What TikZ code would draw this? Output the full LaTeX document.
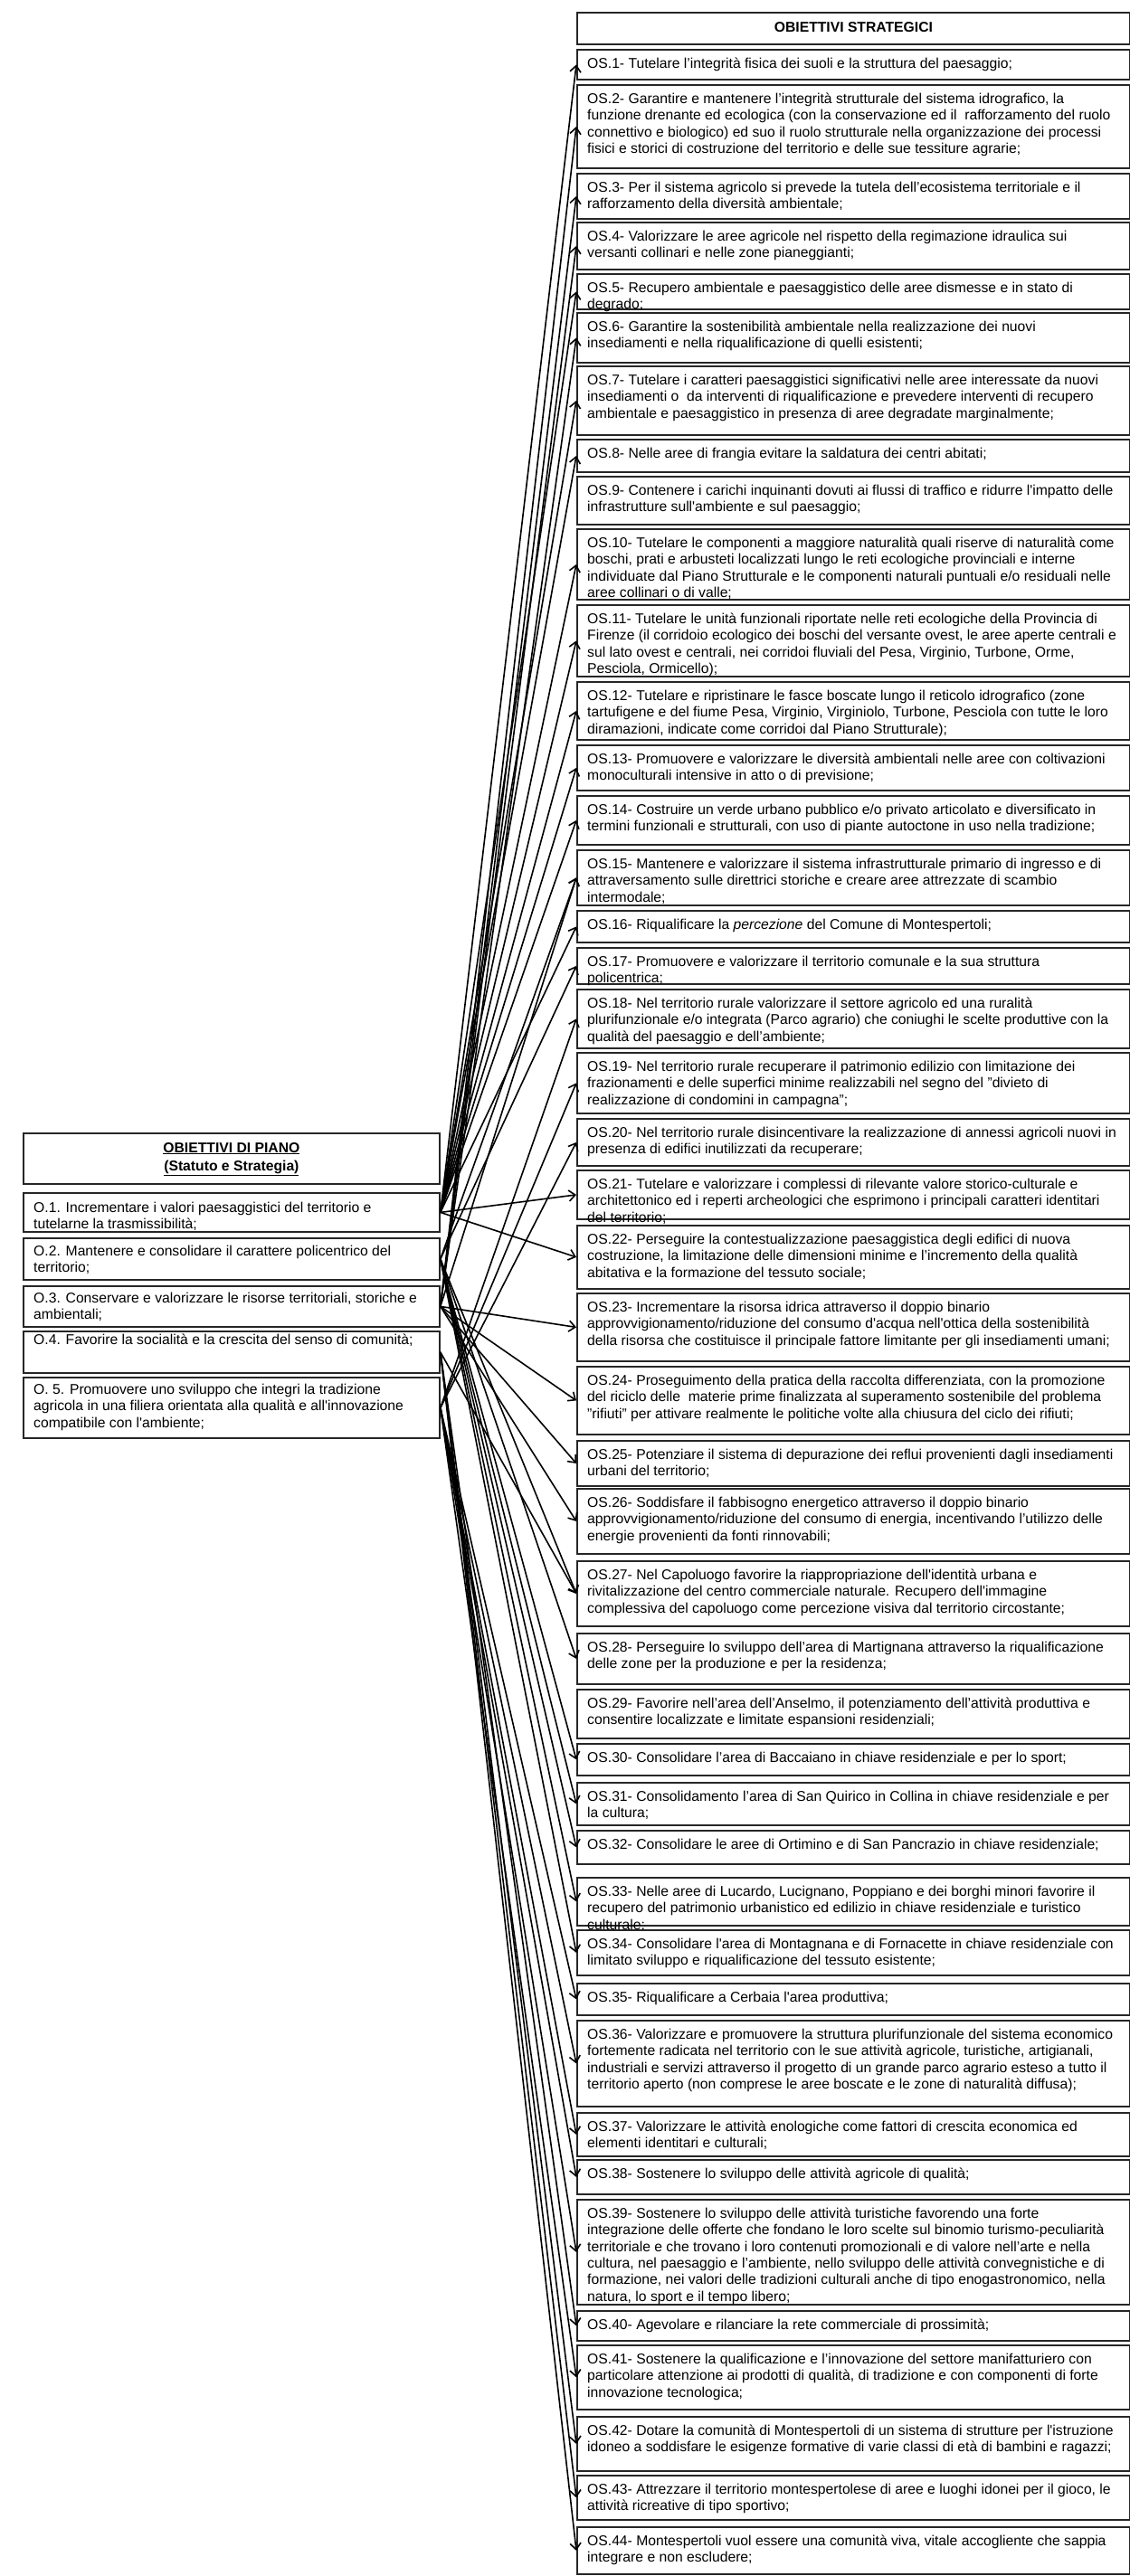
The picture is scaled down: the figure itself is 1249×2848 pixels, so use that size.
\documentclass[tikz,border=0pt]{standalone}
\usepackage{fontspec}
\setmainfont{Liberation Sans}
\usetikzlibrary{arrows.meta}
\tikzset{
  x=1pt,y=1pt,
  frame/.style={draw=black!85, line width=1.8pt, anchor=north west, inner sep=0pt},
  osbox/.style={frame, minimum width=611pt},
  obox/.style={frame, minimum width=460pt},
  txt/.style={anchor=base west, inner sep=0pt, font=\fontsize{15.7}{18.3}\selectfont},
  ttl/.style={anchor=base, inner sep=0pt, font=\fontsize{15.7}{18.3}\selectfont\bfseries},
  conn/.style={draw=black, line width=1.6pt, -{Straight Barb[length=7pt,width=12pt,line width=1.6pt]}}
}
\newcommand{\OSbox}[4]{%
  \node[osbox, minimum height={#3-#2}] (#1) at (637,-#2) {};
  \node[txt] (#1t) at ([xshift=12pt,yshift=-21.5pt]#1.north west) {\parbox[t]{640pt}{\raggedright #4}};
}
\newcommand{\Obox}[5]{%
  \node[obox, minimum height={#3-#2}] (#1) at (25,-#2) {};
  \node[txt] (#1t) at ([xshift=12pt,yshift=-#4pt]#1.north west) {\parbox[t]{460pt}{\raggedright #5}};
}
\begin{document}
\begin{tikzpicture}
\fill[white] (0,0) rectangle (1249,-2848);
\path[use as bounding box] (0,0) rectangle (1249,-2848);

% header
\node[osbox, minimum height=35pt] (hdr) at (637,-13) {};
\node[ttl] (hdrt) at ([yshift=-22pt]hdr.north) {OBIETTIVI STRATEGICI};

\OSbox{os1}{54}{87}{OS.1- Tutelare l’integrità fisica dei suoli e la struttura del paesaggio;}
\OSbox{os2}{93}{185}{OS.2- Garantire e mantenere l’integrità strutturale del sistema idrografico, la\\funzione drenante ed ecologica (con la conservazione ed il\ \ rafforzamento del ruolo\\connettivo e biologico) ed suo il ruolo strutturale nella organizzazione dei processi\\fisici e storici di costruzione del territorio e delle sue tessiture agrarie;}
\OSbox{os3}{191}{241}{OS.3- Per il sistema agricolo si prevede la tutela dell’ecosistema territoriale e il\\rafforzamento della diversità ambientale;}
\OSbox{os4}{245}{297}{OS.4- Valorizzare le aree agricole nel rispetto della regimazione idraulica sui\\versanti collinari e nelle zone pianeggianti;}
\OSbox{os5}{302}{341}{OS.5- Recupero ambientale e paesaggistico delle aree dismesse e in stato di\\degrado;}
\OSbox{os6}{345}{400}{OS.6- Garantire la sostenibilità ambientale nella realizzazione dei nuovi\\insediamenti e nella riqualificazione di quelli esistenti;}
\OSbox{os7}{404}{480}{OS.7- Tutelare i caratteri paesaggistici significativi nelle aree interessate da nuovi\\insediamenti o\ \ da interventi di riqualificazione e prevedere interventi di recupero\\ambientale e paesaggistico in presenza di aree degradate marginalmente;}
\OSbox{os8}{485}{521}{OS.8- Nelle aree di frangia evitare la saldatura dei centri abitati;}
\OSbox{os9}{526}{579}{OS.9- Contenere i carichi inquinanti dovuti ai flussi di traffico e ridurre l\textquotesingle impatto delle\\infrastrutture sull\textquotesingle ambiente e sul paesaggio;}
\OSbox{os10}{584}{662}{OS.10- Tutelare le componenti a maggiore naturalità quali riserve di naturalità come\\boschi, prati e arbusteti localizzati lungo le reti ecologiche provinciali e interne\\individuate dal Piano Strutturale e le componenti naturali puntuali e/o residuali nelle\\aree collinari o di valle;}
\OSbox{os11}{668}{747}{OS.11- Tutelare le unità funzionali riportate nelle reti ecologiche della Provincia di\\Firenze (il corridoio ecologico dei boschi del versante ovest, le aree aperte centrali e\\sul lato ovest e centrali, nei corridoi fluviali del Pesa, Virginio, Turbone, Orme,\\Pesciola, Ormicello);}
\OSbox{os12}{753}{817}{OS.12- Tutelare e ripristinare le fasce boscate lungo il reticolo idrografico (zone\\tartufigene e del fiume Pesa, Virginio, Virginiolo, Turbone, Pesciola con tutte le loro\\diramazioni, indicate come corridoi dal Piano Strutturale);}
\OSbox{os13}{823}{873}{OS.13- Promuovere e valorizzare le diversità ambientali nelle aree con coltivazioni\\monoculturali intensive in atto o di previsione;}
\OSbox{os14}{879}{933}{OS.14- Costruire un verde urbano pubblico e/o privato articolato e diversificato in\\termini funzionali e strutturali, con uso di piante autoctone in uso nella tradizione;}
\OSbox{os15}{939}{1000}{OS.15- Mantenere e valorizzare il sistema infrastrutturale primario di ingresso e di\\attraversamento sulle direttrici storiche e creare aree attrezzate di scambio\\intermodale;}
\OSbox{os16}{1006}{1041}{OS.16- Riqualificare la \textit{percezione} del Comune di Montespertoli;}
\OSbox{os17}{1047}{1087}{OS.17- Promuovere e valorizzare il territorio comunale e la sua struttura\\policentrica;}
\OSbox{os18}{1093}{1158}{OS.18- Nel territorio rurale valorizzare il settore agricolo ed una ruralità\\plurifunzionale e/o integrata (Parco agrario) che coniughi le scelte produttive con la\\qualità del paesaggio e dell’ambiente;}
\OSbox{os19}{1163}{1230}{OS.19- Nel territorio rurale recuperare il patrimonio edilizio con limitazione dei\\frazionamenti e delle superfici minime realizzabili nel segno del "divieto di\\realizzazione di condomini in campagna";}
\OSbox{os20}{1236}{1288}{OS.20- Nel territorio rurale disincentivare la realizzazione di annessi agricoli nuovi in\\presenza di edifici inutilizzati da recuperare;}
\OSbox{os21}{1293}{1347}{OS.21- Tutelare e valorizzare i complessi di rilevante valore storico-culturale e\\architettonico ed i reperti archeologici che esprimono i principali caratteri identitari\\del territorio;}
\OSbox{os22}{1354}{1424}{OS.22- Perseguire la contestualizzazione paesaggistica degli edifici di nuova\\costruzione, la limitazione delle dimensioni minime e l’incremento della qualità\\abitativa e la formazione del tessuto sociale;}
\OSbox{os23}{1429}{1504}{OS.23- Incrementare la risorsa idrica attraverso il doppio binario\\approvvigionamento/riduzione del consumo d\textquotesingle acqua nell\textquotesingle ottica della sostenibilità\\della risorsa che costituisce il principale fattore limitante per gli insediamenti umani;}
\OSbox{os24}{1510}{1585}{OS.24- Proseguimento della pratica della raccolta differenziata, con la promozione\\del riciclo delle\ \ materie prime finalizzata al superamento sostenibile del problema\\"rifiuti" per attivare realmente le politiche volte alla chiusura del ciclo dei rifiuti;}
\OSbox{os25}{1592}{1642}{OS.25- Potenziare il sistema di depurazione dei reflui provenienti dagli insediamenti\\urbani del territorio;}
\OSbox{os26}{1645}{1717}{OS.26- Soddisfare il fabbisogno energetico attraverso il doppio binario\\approvvigionamento/riduzione del consumo di energia, incentivando l’utilizzo delle\\energie provenienti da fonti rinnovabili;}
\OSbox{os27}{1725}{1797}{OS.27- Nel Capoluogo favorire la riappropriazione dell\textquotesingle identità urbana e\\rivitalizzazione del centro commerciale naturale. Recupero dell\textquotesingle immagine\\complessiva del capoluogo come percezione visiva dal territorio circostante;}
\OSbox{os28}{1805}{1861}{OS.28- Perseguire lo sviluppo dell’area di Martignana attraverso la riqualificazione\\delle zone per la produzione e per la residenza;}
\OSbox{os29}{1867}{1921}{OS.29- Favorire nell’area dell’Anselmo, il potenziamento dell’attività produttiva e\\consentire localizzate e limitate espansioni residenziali;}
\OSbox{os30}{1927}{1962}{OS.30- Consolidare l’area di Baccaiano in chiave residenziale e per lo sport;}
\OSbox{os31}{1970}{2017}{OS.31- Consolidamento l’area di San Quirico in Collina in chiave residenziale e per\\la cultura;}
\OSbox{os32}{2023}{2060}{OS.32- Consolidare le aree di Ortimino e di San Pancrazio in chiave residenziale;}
\OSbox{os33}{2075}{2128}{OS.33- Nelle aree di Lucardo, Lucignano, Poppiano e dei borghi minori favorire il\\recupero del patrimonio urbanistico ed edilizio in chiave residenziale e turistico\\culturale;}
\OSbox{os34}{2133}{2183}{OS.34- Consolidare l\textquotesingle area di Montagnana e di Fornacette in chiave residenziale con\\limitato sviluppo e riqualificazione del tessuto esistente;}
\OSbox{os35}{2192}{2227}{OS.35- Riqualificare a Cerbaia l\textquotesingle area produttiva;}
\OSbox{os36}{2233}{2328}{OS.36- Valorizzare e promuovere la struttura plurifunzionale del sistema economico\\fortemente radicata nel territorio con le sue attività agricole, turistiche, artigianali,\\industriali e servizi attraverso il progetto di un grande parco agrario esteso a tutto il\\territorio aperto (non comprese le aree boscate e le zone di naturalità diffusa);}
\OSbox{os37}{2335}{2383}{OS.37- Valorizzare le attività enologiche come fattori di crescita economica ed\\elementi identitari e culturali;}
\OSbox{os38}{2387}{2425}{OS.38- Sostenere lo sviluppo delle attività agricole di qualità;}
\OSbox{os39}{2431}{2547}{OS.39- Sostenere lo sviluppo delle attività turistiche favorendo una forte\\integrazione delle offerte che fondano le loro scelte sul binomio turismo-peculiarità\\territoriale e che trovano i loro contenuti promozionali e di valore nell’arte e nella\\cultura, nel paesaggio e l’ambiente, nello sviluppo delle attività convegnistiche e di\\formazione, nei valori delle tradizioni culturali anche di tipo enogastronomico, nella\\natura, lo sport e il tempo libero;}
\OSbox{os40}{2554}{2587}{OS.40- Agevolare e rilanciare la rete commerciale di prossimità;}
\OSbox{os41}{2592}{2663}{OS.41- Sostenere la qualificazione e l’innovazione del settore manifatturiero con\\particolare attenzione ai prodotti di qualità, di tradizione e con componenti di forte\\innovazione tecnologica;}
\OSbox{os42}{2671}{2731}{OS.42- Dotare la comunità di Montespertoli di un sistema di strutture per l\textquotesingle istruzione\\idoneo a soddisfare le esigenze formative di varie classi di età di bambini e ragazzi;}
\OSbox{os43}{2736}{2785}{OS.43- Attrezzare il territorio montespertolese di aree e luoghi idonei per il gioco, le\\attività ricreative di tipo sportivo;}
\OSbox{os44}{2793}{2845}{OS.44- Montespertoli vuol essere una comunità viva, vitale accogliente che sappia\\integrare e non escludere;}

% left column
\node[obox, minimum height=56pt] (ltitle) at (25,-1252) {};
\node[ttl] (lt1) at ([yshift=-22pt]ltitle.north) {\underline{OBIETTIVI DI PIANO}};
\node[ttl] (lt2) at ([yshift=-42pt]ltitle.north) {\underline{(Statuto e Strategia)}};

\Obox{o1}{1318}{1361}{22}{O.1. Incrementare i valori paesaggistici del territorio e\\tutelarne la trasmissibilità;}
\Obox{o2}{1368}{1414}{20}{O.2. Mantenere e consolidare il carattere policentrico del\\territorio;}
\Obox{o3}{1421}{1466}{19.5}{O.3. Conservare e valorizzare le risorse territoriali, storiche e\\ambientali;}
\Obox{o4}{1471}{1517}{15}{O.4. Favorire la socialità e la crescita del senso di comunità;}
\Obox{o5}{1522}{1589}{19.5}{O. 5. Promuovere uno sviluppo che integri la tradizione\\agricola in una filiera orientata alla qualità e all\textquotesingle innovazione\\compatibile con l\textquotesingle ambiente;}

% connectors
\foreach \t in {os1,os5,os7,os8,os10,os11,os12,os13,os14,os16,os21,os22}
  \draw[conn] (o1.east) -- (\t.west);
\foreach \t in {os15,os17,os27,os28,os30,os31,os32,os33,os34}
  \draw[conn] (o2.east) -- (\t.west);
\foreach \t in {os2,os3,os4,os6,os15,os23,os24,os25,os26}
  \draw[conn] (o3.east) -- (\t.west);
\foreach \t in {os27,os40,os42,os43,os44}
  \draw[conn] (o4.east) -- (\t.west);
\foreach \t in {os18,os19,os20,os35,os36,os37,os38,os39,os41}
  \draw[conn] (o5.east) -- (\t.west);
\end{tikzpicture}
\end{document}
